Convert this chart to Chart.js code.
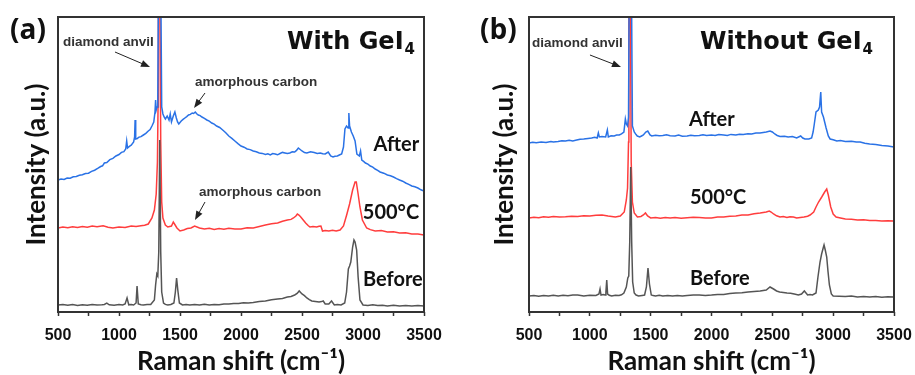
<!DOCTYPE html>
<html>
<head>
<meta charset="utf-8">
<script src="https://cdn.jsdelivr.net/npm/chart.js@4"></script>
<style>
html, body { margin: 0; padding: 0; background: #fff; }
#wrap { position: relative; width: 915px; height: 375px; overflow: hidden; }
canvas { position: absolute; top: 0; }
</style>
</head>
<body>
<div id="wrap">
  <canvas id="chartA" width="457" height="375" style="left:0"></canvas>
  <canvas id="chartB" width="458" height="375" style="left:457px"></canvas>
</div>
<script>
// x tick labels (minor ticks every 250)
const majorTicks = [500, 1000, 1500, 2000, 2500, 3000, 3500];

// (a) With GeI4 -- Before
const shiftBeforeA = [500, 540, 580, 620, 660, 700, 740, 780, 820, 860, 880, 900, 920, 960, 1000, 1030, 1050, 1066, 1080, 1100, 1120, 1140, 1148, 1158, 1180, 1200, 1230, 1260, 1290, 1300, 1310, 1318, 1326, 1334, 1342, 1350, 1365, 1380, 1400, 1425, 1450, 1462, 1472, 1482, 1495, 1520, 1550, 1580, 1620, 1660, 1700, 1740, 1780, 1820, 1860, 1900, 1940, 1980, 2020, 2060, 2100, 2150, 2200, 2250, 2300, 2340, 2380, 2410, 2440, 2460, 2477, 2500, 2520, 2540, 2560, 2580, 2610, 2640, 2660, 2674, 2690, 2720, 2742, 2765, 2790, 2820, 2850, 2865, 2880, 2890, 2900, 2915, 2926, 2935, 2948, 2960, 2975, 3000, 3040, 3080, 3120, 3160, 3200, 3250, 3300, 3350, 3400, 3450, 3500];
const intBeforeA   = [7, 7.6, 6.8, 7.4, 6.6, 7.2, 6.7, 7.5, 6.9, 7.3, 7.6, 8.8, 7.2, 6.8, 7.4, 7, 8, 14, 7.2, 7.6, 7, 9, 26, 8, 7.3, 7, 7.6, 7.5, 12, 27, 38, 36, 60, 172, 60, 20, 9, 7.6, 7, 7.5, 9, 20, 34, 22, 9, 7, 7.6, 6.9, 7.4, 7, 7.8, 7.1, 7.6, 7.3, 8.1, 8, 8.6, 8.4, 9.2, 8.9, 9.5, 10.4, 11, 12.2, 13, 13.6, 15, 15.6, 17, 18.5, 21, 18, 16.4, 14, 12.4, 11, 10.6, 10, 10.4, 11, 8, 8, 11, 7, 7.6, 7, 9, 20, 43, 46, 50, 65, 72, 70, 62, 35, 12, 7, 6.6, 7.2, 6.4, 6.8, 6.1, 6.7, 6, 6.5, 5.9, 6.4, 6];

// (a) With GeI4 -- 500°C
const shift500A = [500, 540, 580, 620, 660, 700, 740, 780, 820, 870, 910, 950, 1000, 1050, 1100, 1140, 1180, 1210, 1240, 1270, 1290, 1305, 1315, 1320, 1323, 1335, 1342, 1350, 1360, 1380, 1400, 1430, 1445, 1455, 1475, 1500, 1530, 1560, 1590, 1620, 1660, 1700, 1740, 1780, 1820, 1860, 1900, 1950, 2000, 2050, 2100, 2150, 2200, 2250, 2300, 2340, 2380, 2410, 2430, 2450, 2462, 2475, 2490, 2510, 2530, 2550, 2565, 2590, 2620, 2640, 2655, 2668, 2690, 2720, 2750, 2780, 2812, 2840, 2866, 2890, 2915, 2935, 2945, 2960, 2975, 2995, 3030, 3060, 3100, 3150, 3200, 3250, 3300, 3350, 3400, 3450, 3500];
const int500A   = [84, 85, 84.2, 85.3, 84.6, 85.4, 84.8, 85.9, 85.2, 86.2, 84.8, 84, 85, 84.5, 86, 85.4, 86.3, 86.8, 88, 94, 102, 118, 150, 205, 330, 330, 170, 110, 94, 87, 85, 86, 90, 88, 84, 81, 82, 83.4, 84, 86, 84, 83, 83.8, 82.6, 83.5, 82.8, 83.7, 82.9, 83, 84.2, 84, 85.5, 87, 88.2, 89, 90.8, 92, 92.6, 94, 96, 98, 97, 95, 92, 89, 86.5, 85, 85.6, 85, 85.8, 86, 81, 81.6, 81, 81.7, 81, 82, 86, 97, 108, 122, 130, 130, 118, 105, 92, 84, 82.4, 81, 81.4, 80, 80.3, 79, 79.2, 78, 78.1, 77];

// (a) With GeI4 -- After
const shiftAfterA = [500, 525, 550, 575, 600, 625, 650, 675, 700, 725, 750, 775, 800, 825, 850, 865, 880, 900, 925, 950, 975, 1000, 1020, 1040, 1055, 1063, 1070, 1085, 1100, 1120, 1128, 1132, 1137, 1150, 1160, 1180, 1200, 1220, 1240, 1255, 1270, 1285, 1295, 1300, 1305, 1312, 1318, 1327, 1338, 1350, 1360, 1370, 1380, 1395, 1410, 1420, 1430, 1445, 1458, 1470, 1480, 1490, 1500, 1510, 1525, 1540, 1555, 1570, 1585, 1600, 1612, 1625, 1637, 1650, 1665, 1680, 1700, 1720, 1740, 1760, 1780, 1800, 1825, 1850, 1875, 1900, 1925, 1950, 1975, 2000, 2025, 2050, 2075, 2100, 2125, 2150, 2175, 2200, 2220, 2240, 2260, 2280, 2300, 2320, 2340, 2360, 2380, 2400, 2420, 2440, 2455, 2470, 2485, 2500, 2520, 2540, 2570, 2600, 2625, 2650, 2670, 2690, 2715, 2735, 2754, 2770, 2790, 2810, 2825, 2840, 2852, 2865, 2878, 2884, 2890, 2905, 2920, 2935, 2950, 2970, 2980, 2990, 3005, 3020, 3040, 3060, 3080, 3100, 3120, 3140, 3170, 3200, 3225, 3250, 3275, 3300, 3325, 3350, 3375, 3400, 3425, 3450, 3475, 3500];
const intAfterA   = [132, 133, 132.6, 134, 133.8, 135.2, 135.6, 136.8, 137.2, 138.5, 138.8, 140.6, 141.8, 143.6, 145.5, 146.2, 149, 149.5, 152.4, 153.6, 156, 157.5, 159.6, 160.4, 163, 171, 164, 165.6, 166.8, 170, 175, 192, 173, 173.5, 174.6, 175.4, 177, 178.6, 181, 182.4, 186, 190, 200, 212, 202, 205, 215, 400, 400, 205, 198, 195, 193, 196, 192, 198, 190, 196, 200, 194, 190, 188, 189.5, 191, 192.6, 194, 195.4, 197, 197.6, 199, 198.5, 200, 198.2, 197, 196.4, 195, 193.6, 192, 190.8, 189, 187.8, 186, 184.5, 182, 179.2, 176, 173.6, 171, 168.4, 166, 164.8, 163, 162.4, 161, 160.2, 159, 158.6, 157.5, 158.2, 157, 158.4, 158, 157.2, 158.5, 159.6, 159, 158.4, 159, 160.2, 160, 161.6, 164, 162.5, 161, 159.4, 159, 160.2, 159.5, 158.6, 159, 158.2, 158, 160, 156, 155, 155.8, 156, 157.2, 158, 165, 183, 186, 184, 199, 186, 180, 176, 171, 158, 156, 161, 152, 150.6, 149, 147.8, 146, 144.8, 143, 141.6, 140, 138.8, 137, 136.2, 135, 133.4, 132, 130.8, 129, 127.6, 126, 125.2, 124, 122.2, 121];

// (b) Without GeI4 -- Before
const shiftBeforeB = [500, 540, 580, 620, 660, 700, 740, 780, 820, 860, 900, 950, 1000, 1050, 1075, 1084, 1092, 1110, 1125, 1132, 1139, 1146, 1160, 1180, 1210, 1240, 1260, 1280, 1300, 1312, 1320, 1328, 1336, 1344, 1352, 1365, 1380, 1400, 1430, 1450, 1465, 1478, 1490, 1505, 1520, 1540, 1570, 1600, 1640, 1680, 1720, 1760, 1800, 1850, 1900, 1950, 2000, 2050, 2100, 2150, 2200, 2250, 2300, 2350, 2400, 2450, 2481, 2510, 2535, 2560, 2590, 2620, 2650, 2680, 2714, 2740, 2763, 2790, 2810, 2830, 2859, 2875, 2892, 2905, 2918, 2925, 2935, 2947, 2958, 2969, 2985, 3000, 3050, 3100, 3150, 3200, 3250, 3300, 3350, 3400, 3450, 3500];
const intBeforeB   = [16, 16.6, 15.8, 16.5, 16, 16.8, 16.1, 16.7, 16.2, 16.9, 17, 16, 16.8, 16.5, 18, 23, 17, 17.4, 17, 20, 32, 18, 16.8, 16, 16.7, 16.5, 17.2, 19, 25, 34, 36, 70, 145, 70, 30, 19, 17, 16, 16.6, 17, 25, 44, 28, 17, 16.4, 16, 16.7, 16, 16.6, 15.9, 16.5, 16.1, 16.5, 16.9, 17, 16.6, 17, 17.6, 17.5, 18.4, 19, 19.3, 20, 20.6, 21, 22, 25, 23, 21, 20, 19.6, 19, 18.8, 18, 17, 18, 21, 17, 17.5, 17, 19, 35, 50, 58, 64, 67, 62, 55, 40, 27, 18, 16, 15.7, 15.5, 16, 15, 15.5, 15, 15.4, 14.8, 15.3, 15];

// (b) Without GeI4 -- 500°C
const shift500B = [500, 540, 580, 620, 660, 700, 750, 800, 850, 900, 950, 1000, 1050, 1100, 1150, 1180, 1210, 1250, 1283, 1300, 1310, 1318, 1321, 1333, 1340, 1350, 1365, 1391, 1420, 1440, 1457, 1475, 1500, 1540, 1580, 1620, 1660, 1700, 1750, 1800, 1850, 1900, 1950, 2000, 2050, 2100, 2150, 2200, 2250, 2300, 2350, 2400, 2450, 2475, 2490, 2510, 2535, 2563, 2590, 2620, 2645, 2673, 2700, 2730, 2760, 2790, 2810, 2840, 2859, 2880, 2906, 2930, 2947, 2960, 2980, 3000, 3024, 3060, 3100, 3150, 3200, 3250, 3300, 3350, 3400, 3450, 3500];
const int500B   = [94, 94.8, 94.2, 95.3, 94.7, 95.4, 94.9, 95.2, 95.8, 95.5, 96.2, 96, 96.8, 97, 96, 95.6, 95, 96, 100, 112, 124, 170, 330, 330, 150, 110, 99, 95, 95.5, 97, 99, 96, 94, 94.6, 93.8, 94.5, 93.9, 94.4, 93.8, 94.3, 94.7, 94.5, 94.1, 94, 94.9, 95, 95.8, 96, 96.9, 97, 98.2, 99, 100, 101, 100, 98, 96.2, 95, 95.4, 94.5, 95.3, 95, 94, 94.6, 95, 95.8, 97, 100, 105, 110, 115, 120, 123, 117, 105, 98, 95, 94, 93, 92.8, 92, 92.2, 91.5, 91.6, 91, 91.3, 91];

// (b) Without GeI4 -- After
const shiftAfterB = [500, 530, 560, 600, 640, 680, 700, 739, 770, 800, 830, 860, 892, 920, 950, 985, 1015, 1040, 1060, 1070, 1078, 1100, 1130, 1144, 1152, 1175, 1200, 1220, 1242, 1260, 1280, 1292, 1300, 1310, 1318, 1327, 1338, 1350, 1365, 1380, 1390, 1410, 1425, 1440, 1460, 1476, 1495, 1509, 1540, 1570, 1600, 1630, 1660, 1700, 1730, 1760, 1800, 1830, 1860, 1900, 1930, 1960, 2000, 2030, 2060, 2100, 2130, 2160, 2200, 2230, 2261, 2300, 2330, 2365, 2398, 2425, 2450, 2481, 2500, 2520, 2540, 2563, 2600, 2630, 2665, 2700, 2733, 2750, 2768, 2800, 2823, 2835, 2845, 2859, 2878, 2888, 2898, 2905, 2920, 2932, 2942, 2960, 2975, 3000, 3030, 3060, 3100, 3150, 3190, 3222, 3260, 3300, 3350, 3400, 3450, 3500];
const intAfterB   = [169, 169.8, 169.2, 170, 169.6, 170.6, 170, 170.5, 171.3, 171, 171.8, 171, 172, 172.8, 173, 173.6, 174, 174.8, 174, 179, 175, 175.5, 175, 182, 175, 176.2, 176, 177, 177, 178.2, 180, 193, 188, 186, 195, 400, 400, 186, 180, 177.4, 176, 175, 176, 177, 180, 181, 177, 176, 176.8, 176.2, 176.5, 177.2, 176.3, 176, 176.9, 175.8, 176, 176.8, 176.2, 176.5, 177.3, 176.6, 177, 176.5, 177.4, 177, 176.6, 177.6, 177, 177.8, 177.5, 178.3, 178, 178.9, 179, 179.6, 180, 181, 180, 178, 176.5, 175.5, 175.8, 175, 175.4, 174, 176, 174, 173, 173, 174, 180, 188, 200, 202, 205, 220, 200, 195, 189, 184, 176, 173, 172.2, 171, 171.4, 170.5, 170.8, 169.9, 170, 168.8, 168, 167.5, 166.5, 166, 165];

const BLUE = '#2a72e6';
const RED = '#ff3d3d';
const GRAY = '#555555';

function toPoints(xs, ys) {
    return xs.map((v, i) => ({ x: v, y: ys[i] }));
}

const panelDecor = {
    id: 'panelDecor',
    afterDatasetsDraw(chart, args, opts) {
        const { ctx, chartArea: a, scales: { x, y } } = chart;
        ctx.save();
        // frame
        ctx.strokeStyle = '#333';
        ctx.lineWidth = 2;
        ctx.strokeRect(a.left, a.top, a.width, a.height);

        // panel letter
        ctx.fillStyle = '#111';
        ctx.font = 'bold 28px "Open Sans"';
        ctx.textBaseline = 'middle';
        ctx.textAlign = 'left';
        ctx.fillText(opts.letter, opts.letterX, 31);

        // title with subscript
        ctx.textBaseline = 'alphabetic';
        ctx.font = 'bold 24px "DejaVu Sans"';
        const w1 = ctx.measureText(opts.title).width;
        ctx.font = 'bold 15px "DejaVu Sans"';
        const w2 = ctx.measureText('4').width;
        const start = a.right - opts.titleRight - w1 - w2 - 1;
        ctx.font = 'bold 24px "DejaVu Sans"';
        ctx.fillText(opts.title, start, 49);
        ctx.font = 'bold 15px "DejaVu Sans"';
        ctx.fillText('4', start + w1 + 1, 54);

        // labels in data coordinates
        ctx.textBaseline = 'middle';
        opts.labels.forEach(l => {
            ctx.font = l.font;
            ctx.fillStyle = l.color || '#111';
            ctx.textAlign = l.align;
            ctx.fillText(l.text, x.getPixelForValue(l.x), y.getPixelForValue(l.y));
        });

        // arrows
        ctx.strokeStyle = '#222';
        ctx.fillStyle = '#222';
        ctx.lineWidth = 1;
        opts.arrows.forEach(ar => {
            const x1 = x.getPixelForValue(ar[0]), y1 = y.getPixelForValue(ar[1]);
            const x2 = x.getPixelForValue(ar[2]), y2 = y.getPixelForValue(ar[3]);
            const ang = Math.atan2(y2 - y1, x2 - x1);
            ctx.beginPath();
            ctx.moveTo(x1, y1);
            ctx.lineTo(x2 - 6 * Math.cos(ang), y2 - 6 * Math.sin(ang));
            ctx.stroke();
            ctx.beginPath();
            ctx.moveTo(x2, y2);
            ctx.lineTo(x2 - 9 * Math.cos(ang) + 3.5 * Math.sin(ang), y2 - 9 * Math.sin(ang) - 3.5 * Math.cos(ang));
            ctx.lineTo(x2 - 9 * Math.cos(ang) - 3.5 * Math.sin(ang), y2 - 9 * Math.sin(ang) + 3.5 * Math.cos(ang));
            ctx.closePath();
            ctx.fill();
        });
        ctx.restore();
    }
};

const labelFont = 'bold 20px Lato';
const noteFont = 'bold 13.5px "Liberation Sans"';

function makePanel(id, p) {
    new Chart(document.getElementById(id), {
        type: 'line',
        data: {
            datasets: [
                { label: 'After', data: toPoints(p.after[0], p.after[1]), borderColor: BLUE },
                { label: 'Before', data: toPoints(p.before[0], p.before[1]), borderColor: GRAY },
                { label: '500°C', data: toPoints(p.heated[0], p.heated[1]), borderColor: RED }
            ]
        },
        options: {
            responsive: false,
            animation: false,
            devicePixelRatio: 1,
            layout: { padding: { left: 0, right: p.padRight, top: 17, bottom: 0 } },
            elements: {
                line: { borderWidth: 1.5, tension: 0 },
                point: { radius: 0 }
            },
            plugins: {
                legend: { display: false },
                tooltip: { enabled: false },
                panelDecor: p.decor
            },
            scales: {
                x: {
                    type: 'linear',
                    min: 500,
                    max: 3500,
                    // fixed axis box; edge labels may overhang into the layout padding
                    afterFit: s => { s.height = 63; s.paddingLeft = 0; s.paddingRight = 0; },
                    border: { display: false },
                    grid: { drawOnChartArea: false, drawTicks: true, tickLength: 4, color: '#333', tickWidth: 1.5 },
                    ticks: {
                        stepSize: 250,
                        autoSkip: false,
                        maxRotation: 0,
                        padding: 10,
                        color: '#111',
                        font: { family: 'Liberation Sans', weight: 'bold', size: 16 },
                        callback: v => majorTicks.includes(v) ? v : ''
                    },
                    title: {
                        display: true,
                        text: 'Raman shift (cm⁻¹)',
                        color: '#111',
                        font: { family: 'Lato', weight: 'bold', size: 26 },
                        padding: { top: 0, bottom: -2 }
                    }
                },
                y: {
                    min: 0,
                    max: 295,
                    afterFit: s => { s.width = p.yWidth; },
                    border: { display: false },
                    grid: { display: false },
                    ticks: { display: false },
                    title: {
                        display: true,
                        text: 'Intensity (a.u.)',
                        color: '#111',
                        font: { family: 'Lato', weight: 'bold', size: 26 },
                        padding: { top: p.yTitlePad, bottom: 0 }
                    }
                }
            }
        },
        plugins: [panelDecor]
    });
}

makePanel('chartA', {
    after: [shiftAfterA, intAfterA],
    before: [shiftBeforeA, intBeforeA],
    heated: [shift500A, int500A],
    padRight: 33,
    yWidth: 58,
    yTitlePad: 21,
    decor: {
        letter: '(a)', letterX: 10, title: 'With GeI', titleRight: 9,
        labels: [
            { text: 'After', x: 3460, y: 167, align: 'right', font: labelFont },
            { text: '500°C', x: 3460, y: 99, align: 'right', font: labelFont },
            { text: 'Before', x: 3490, y: 32, align: 'right', font: labelFont },
            { text: 'diamond anvil', x: 541, y: 270, align: 'left', font: noteFont, color: '#333' },
            { text: 'amorphous carbon', x: 1623, y: 230, align: 'left', font: noteFont, color: '#333' },
            { text: 'amorphous carbon', x: 1656, y: 120, align: 'left', font: noteFont, color: '#333' }
        ],
        arrows: [[967, 260, 1254, 245], [1705, 219, 1615, 204], [1705, 110, 1623, 92]]
    }
});

makePanel('chartB', {
    after: [shiftAfterB, intAfterB],
    before: [shiftBeforeB, intBeforeB],
    heated: [shift500B, int500B],
    padRight: 21,
    yWidth: 72,
    yTitlePad: 32,
    decor: {
        letter: '(b)', letterX: 23, title: 'Without GeI', titleRight: 21,
        labels: [
            { text: 'After', x: 1815, y: 192, align: 'left', font: labelFont },
            { text: '500°C', x: 1823, y: 114, align: 'left', font: labelFont },
            { text: 'Before', x: 1823, y: 33, align: 'left', font: labelFont },
            { text: 'diamond anvil', x: 525, y: 269, align: 'left', font: noteFont, color: '#333' }
        ],
        arrows: [[1001, 257, 1256, 245]]
    }
});
</script>
</body>
</html>
